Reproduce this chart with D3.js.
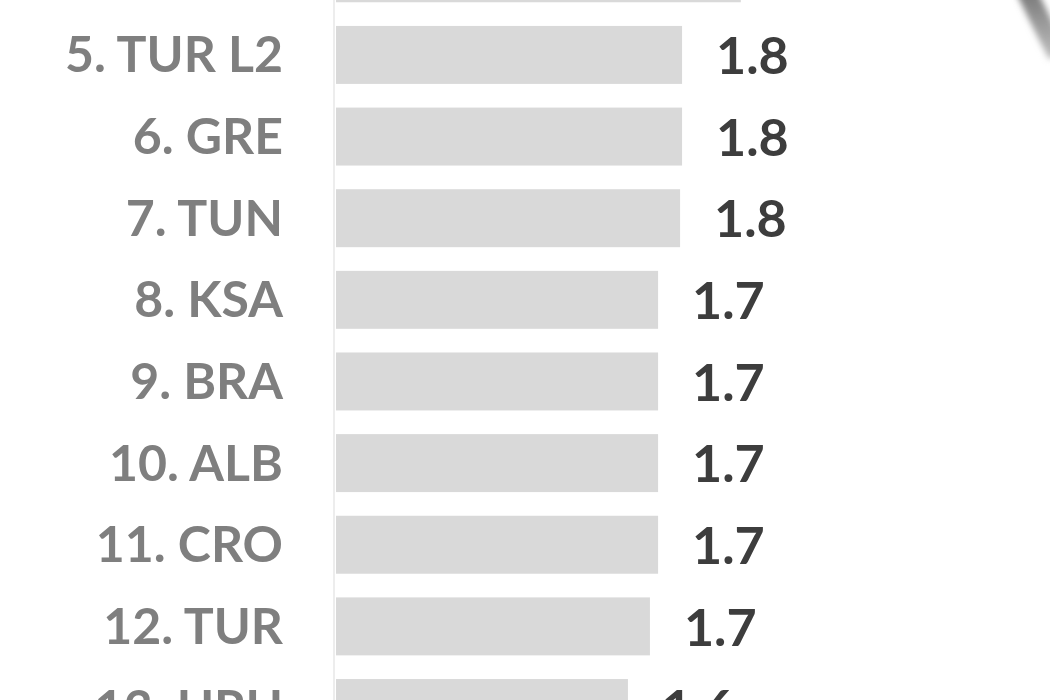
<!DOCTYPE html>
<html>
<head>
<meta charset="utf-8">
<script src="https://cdn.jsdelivr.net/npm/d3@7"></script>
<style>
  html, body { margin: 0; padding: 0; background: #ffffff; }
  svg { display: block; }
</style>
</head>
<body>
<svg id="chart" width="1050" height="700"></svg>
<script>
// Ranking: category labels and their values (labels show one decimal)
const categories = ["4. POR", "5. TUR L2", "6. GRE", "7. TUN", "8. KSA", "9. BRA", "10. ALB", "11. CRO", "12. TUR", "13. URU"];
const values = [2.09, 1.823, 1.823, 1.814, 1.714, 1.714, 1.714, 1.714, 1.677, 1.577];
const valueFormat = d3.format(".1f");

const svg = d3.select("#chart");

const x = d3.scaleLinear().domain([0.25, 2.25]).range([336, 776]);
const y = d3.scaleBand().domain(categories).range([-55.7, 737]).paddingInner(0.29).paddingOuter(0);

const rows = categories.map((c, i) => ({ cat: c, val: values[i] }));

// faint baseline at the start of the bars
svg.append("line")
  .attr("x1", 334).attr("x2", 334)
  .attr("y1", 0).attr("y2", 700)
  .attr("stroke", "#ededed").attr("stroke-width", 2);

// bars
svg.append("g").selectAll("rect")
  .data(rows).join("rect")
  .attr("x", x(0.25))
  .attr("y", d => y(d.cat))
  .attr("width", d => x(d.val) - x(0.25))
  .attr("height", y.bandwidth())
  .attr("fill", "#d9d9d9");

// category labels
const labelSize = 50;
svg.append("g").selectAll("text")
  .data(rows).join("text")
  .attr("x", 283)
  .attr("y", d => y(d.cat) + y.bandwidth() / 2 + labelSize * 0.35)
  .attr("text-anchor", "end")
  .attr("font-family", "Lato, 'Open Sans', sans-serif")
  .attr("font-weight", 700)
  .attr("font-size", labelSize)
  .attr("fill", "#7f7f7f")
  .text(d => d.cat);

// value labels
const valueSize = 52;
svg.append("g").selectAll("text")
  .data(rows).join("text")
  .attr("x", d => x(d.val) + 34)
  .attr("y", d => y(d.cat) + y.bandwidth() / 2 + valueSize * 0.37)
  .attr("font-family", "Lato, 'Open Sans', sans-serif")
  .attr("font-weight", 700)
  .attr("font-size", valueSize)
  .attr("fill", "#3d3d3d")
  .text(d => valueFormat(d.val));

// soft grey stroke in the top-right corner
const defs = svg.append("defs");
defs.append("filter").attr("id", "soft")
  .attr("x", "-50%").attr("y", "-50%").attr("width", "200%").attr("height", "200%")
  .append("feGaussianBlur").attr("stdDeviation", 3);
const grad = defs.append("linearGradient").attr("id", "fade")
  .attr("x1", 0).attr("y1", 0).attr("x2", 0).attr("y2", 1);
grad.append("stop").attr("offset", "0%").attr("stop-color", "#777");
grad.append("stop").attr("offset", "100%").attr("stop-color", "#bbb");
svg.append("path")
  .attr("d", "M1026,-10 Q1040,20 1058,55")
  .attr("fill", "none")
  .attr("stroke", "url(#fade)")
  .attr("stroke-width", 20)
  .attr("filter", "url(#soft)");
</script>
</body>
</html>
